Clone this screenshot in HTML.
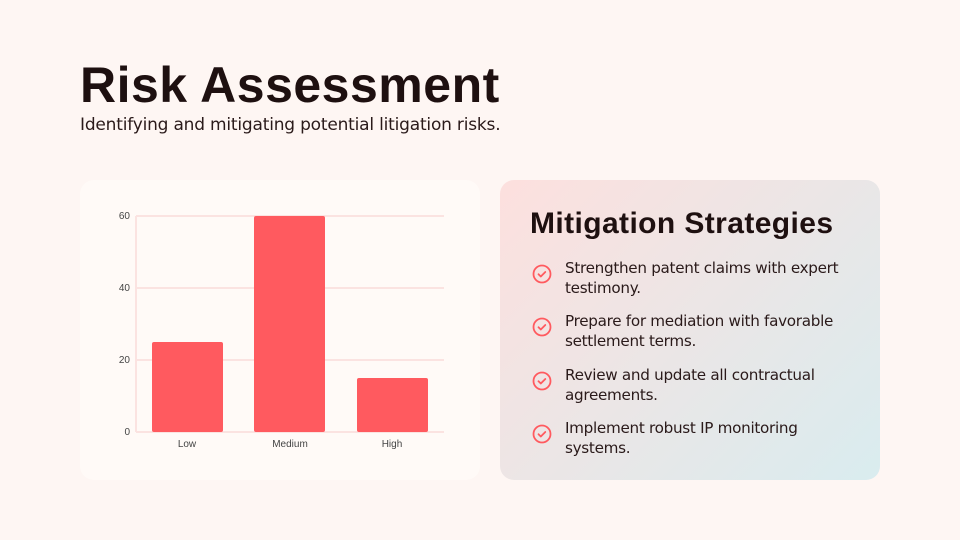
<!DOCTYPE html>
<html><head><meta charset="utf-8"><style>
*{margin:0;padding:0;box-sizing:border-box}
body{width:960px;height:540px;background:#fef6f3;position:relative;overflow:hidden;font-family:"DejaVu Sans","Liberation Sans",sans-serif;color:#1e1212}
h1{position:absolute;left:80px;top:56px;font:bold 50px "Liberation Sans",sans-serif;letter-spacing:0.5px;color:#1e1010}
.sub{position:absolute;left:80px;top:115px;font-size:17px;color:#2a1a1a;letter-spacing:-0.2px}
.card1{position:absolute;left:80px;top:180px;width:400px;height:300px;background:#fffaf7;border-radius:14px}
.card2{position:absolute;left:500px;top:180px;width:380px;height:300px;border-radius:14px;background:linear-gradient(135deg,#fde0de 0%,#ebe6e6 50%,#d9ecef 100%)}
h2{position:absolute;left:30px;top:27px;font:bold 30px "Liberation Sans",sans-serif;color:#1e1010;letter-spacing:0.4px}
.item{position:absolute;left:65px;font-size:15.2px;line-height:19.5px;color:#2a1a1a;letter-spacing:-0.3px}
.ic{position:absolute;left:32px;width:20px;height:20px}
</style></head><body>
<h1>Risk Assessment</h1>
<div class="sub">Identifying and mitigating potential litigation risks.</div>
<div class="card1"></div>
<svg style="position:absolute;left:0;top:0" width="960" height="540">
<g stroke="#fbe3e1" stroke-width="2">
<line x1="136" y1="216" x2="444" y2="216"/><line x1="136" y1="288" x2="444" y2="288"/>
<line x1="136" y1="360" x2="444" y2="360"/><line x1="136" y1="432" x2="444" y2="432"/>
<line x1="136" y1="216" x2="136" y2="432"/></g>
<g fill="#ff5a5f">
<rect x="152" y="342" width="71" height="90" rx="2"/>
<rect x="254" y="216" width="71" height="216" rx="2"/>
<rect x="357" y="378" width="71" height="54" rx="2"/></g>
<g font-family="Liberation Sans,sans-serif" font-size="10" fill="#444" text-anchor="end">
<text x="130" y="219">60</text><text x="130" y="291">40</text><text x="130" y="363">20</text><text x="130" y="435">0</text></g>
<g font-family="Liberation Sans,sans-serif" font-size="10" fill="#444" text-anchor="middle">
<text x="187" y="447">Low</text><text x="290" y="447">Medium</text><text x="392" y="447">High</text></g>
</svg>
<div class="card2">
<h2>Mitigation Strategies</h2>
<svg class="ic" style="top:84px" viewBox="0 0 20 20"><circle cx="10" cy="10" r="8.5" fill="none" stroke="#ff5a5f" stroke-width="1.8"/><path d="M6.5 10.2l2.3 2.3 4.5-4.5" fill="none" stroke="#ff5a5f" stroke-width="1.8" stroke-linecap="round" stroke-linejoin="round"/></svg>
<div class="item" style="top:79px">Strengthen patent claims with expert<br>testimony.</div>
<svg class="ic" style="top:137px" viewBox="0 0 20 20"><circle cx="10" cy="10" r="8.5" fill="none" stroke="#ff5a5f" stroke-width="1.8"/><path d="M6.5 10.2l2.3 2.3 4.5-4.5" fill="none" stroke="#ff5a5f" stroke-width="1.8" stroke-linecap="round" stroke-linejoin="round"/></svg>
<div class="item" style="top:132px">Prepare for mediation with favorable<br>settlement terms.</div>
<svg class="ic" style="top:191px" viewBox="0 0 20 20"><circle cx="10" cy="10" r="8.5" fill="none" stroke="#ff5a5f" stroke-width="1.8"/><path d="M6.5 10.2l2.3 2.3 4.5-4.5" fill="none" stroke="#ff5a5f" stroke-width="1.8" stroke-linecap="round" stroke-linejoin="round"/></svg>
<div class="item" style="top:186px">Review and update all contractual<br>agreements.</div>
<svg class="ic" style="top:244px" viewBox="0 0 20 20"><circle cx="10" cy="10" r="8.5" fill="none" stroke="#ff5a5f" stroke-width="1.8"/><path d="M6.5 10.2l2.3 2.3 4.5-4.5" fill="none" stroke="#ff5a5f" stroke-width="1.8" stroke-linecap="round" stroke-linejoin="round"/></svg>
<div class="item" style="top:239px">Implement robust IP monitoring<br>systems.</div>
</div>
</body></html>
